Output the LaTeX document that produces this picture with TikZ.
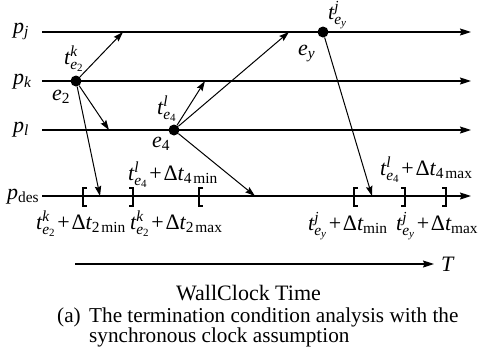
\documentclass[tikz,border=0pt]{standalone}
\usepackage[no-math]{fontspec}
\setmainfont{Liberation Serif}
\newfontfamily\lsfam{Liberation Serif}[NFSSFamily=lsmath]
\DeclareSymbolFont{letters}{TU}{lsmath}{m}{it}
\DeclareSymbolFont{operators}{TU}{lsmath}{m}{n}
\Umathchardef\Dlt="0 \symoperators "0394
\newcommand\lblfont{\fontsize{22}{24}\selectfont\medmuskip=1.5mu\relax\thinmuskip=2.5mu\relax}
\newcommand\capfont{\fontsize{21.2}{24}\selectfont}
\usetikzlibrary{arrows.meta}
\tikzset{
  lbl/.style={anchor=base west, inner sep=0pt, font=\lblfont},
  captext/.style={anchor=base west, inner sep=0pt, font=\capfont},
  proc/.style={line width=1.1pt, -{Stealth[length=11pt,width=7pt,inset=1.5pt]}},
  msg/.style={line width=1pt, -{Stealth[length=10pt,width=6.5pt,inset=1.5pt]}},
  dot/.style={circle, fill=black, inner sep=0pt, minimum size=11pt},
  brk/.style={line width=1.1pt},
}
\begin{document}
\begin{tikzpicture}[x=1pt,y=-1pt]
\useasboundingbox (0,0) rectangle (481,360);
% process lines
\coordinate (pjs) at (42,32);  \coordinate (pje) at (471,32);
\coordinate (pks) at (42,81);  \coordinate (pke) at (471,81);
\coordinate (pls) at (42,130); \coordinate (ple) at (471,130);
\coordinate (pds) at (42,196); \coordinate (pde) at (471,196);
\draw[proc] (pjs) -- (pje);
\draw[proc] (pks) -- (pke);
\draw[proc] (pls) -- (ple);
\draw[proc] (pds) -- (pde);
% process labels
\node[lbl] (pj) at (13,33) {$p_j$};
\node[lbl] (pk) at (13,84) {$p_k$};
\node[lbl] (pl) at (13,132) {$p_l$};
\node[lbl] (pd) at (7,199) {$p_{\mathrm{des}}$};
% events
\node[dot] (e2) at (76,81) {};
\node[dot] (e4) at (174,130) {};
\node[dot] (ey) at (323,32) {};
% message ends
\coordinate (m2j) at (123,32);
\coordinate (m2l) at (109,130);
\coordinate (m2d) at (100,196);
\coordinate (m4k) at (205,81);
\coordinate (m4j) at (289,32);
\coordinate (m4d) at (255,196);
\coordinate (myd) at (372,196);
\draw[msg] (e2) -- (m2j);
\draw[msg] (e2) -- (m2l);
\draw[msg] (e2) -- (m2d);
\draw[msg] (e4) -- (m4k);
\draw[msg] (e4) -- (m4j);
\draw[msg] (e4) -- (m4d);
\draw[msg] (ey) -- (myd);
% event labels
\node[lbl] (te2) at (64,64) {$t^k_{e_2}$};
\node[lbl] (e2l) at (52,100) {$e_2$};
\node[lbl] (te4) at (157,114) {$t^l_{e_4}$};
\node[lbl] (e4l) at (152,147) {$e_4$};
\node[lbl] (tey) at (328,19.5) {$t^j_{e_y}$};
\node[lbl] (eyl) at (298,55) {$e_y$};
% brackets
\draw[brk] (87,188) -- (83,188) -- (83,206) -- (87,206);
\draw[brk] (129,188) -- (133,188) -- (133,206) -- (129,206);
\draw[brk] (203,188) -- (199,188) -- (199,206) -- (203,206);
\draw[brk] (358,188) -- (354,188) -- (354,206) -- (358,206);
\draw[brk] (401,188) -- (405,188) -- (405,206) -- (401,206);
\draw[brk] (442,188) -- (446,188) -- (446,206) -- (442,206);
% interval labels
\node[lbl] (l4min) at (128,180) {$t^l_{e_4}+\Dlt t_{4\min}$};
\node[lbl] (l2min) at (36,229) {$t^k_{e_2}+\Dlt t_{2\min}$};
\node[lbl] (l2max) at (130,229) {$t^k_{e_2}+\Dlt t_{2\max}$};
\node[lbl] (l4max) at (380,175) {$t^l_{e_4}+\Dlt t_{4\max}$};
\node[lbl] (lymin) at (308,230) {$t^j_{e_y}+\Dlt t_{\min}$};
\node[lbl] (lymax) at (396,230) {$t^j_{e_y}+\Dlt t_{\max}$};
% time axis
\coordinate (ts) at (75,264);
\coordinate (te) at (434,264);
\draw[proc] (ts) -- (te);
\node[lbl] (T) at (441,271) {$T$};
\node[lbl] (wall) at (176,300) {WallClock Time};
% caption
\node[captext] (capa) at (57,322) {(a)};
\node[captext] (cap1) at (89,322) {The termination condition analysis with the};
\node[captext] (cap2) at (89,342) {synchronous clock assumption};
\end{tikzpicture}
\end{document}
